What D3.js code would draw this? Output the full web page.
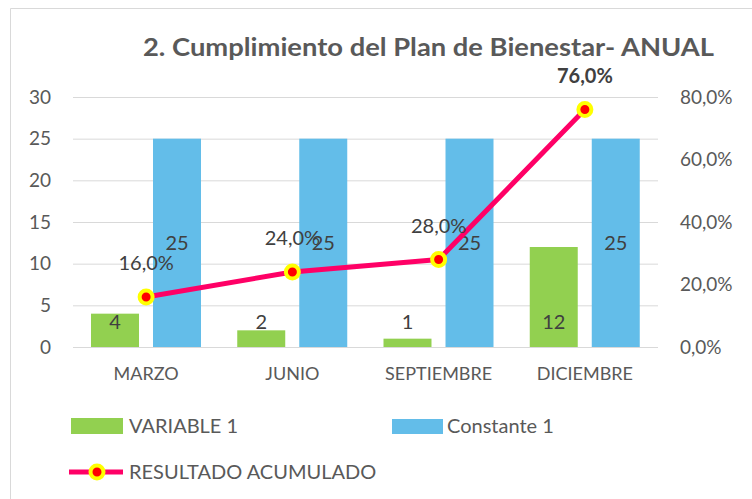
<!DOCTYPE html>
<html>
<head>
<meta charset="utf-8">
<script src="https://cdn.jsdelivr.net/npm/d3@7"></script>
<style>
  body { margin: 0; background: #fff; }
  text { font-family: Lato, "Open Sans", sans-serif; fill: #595959; }
  .tick line { stroke: #d9d9d9; }
  .tick text { font-size: 19px; fill: #595959; }
</style>
</head>
<body>
<svg width="752" height="499"></svg>
<script>
  var categories = ["MARZO", "JUNIO", "SEPTIEMBRE", "DICIEMBRE"];
  var variable1 = [4, 2, 1, 12];
  var constante1 = [25, 25, 25, 25];
  var resultado = [0.16, 0.24, 0.28, 0.76];
  var leftTicks = [0, 5, 10, 15, 20, 25, 30];
  var rightTicks = [0, 0.2, 0.4, 0.6, 0.8];

  var svg = d3.select("svg");
  var width = +svg.attr("width");
  var height = +svg.attr("height");
  var margin = { top: 97, right: 94, left: 73, bottom: 152 };
  var innerWidth = width - margin.left - margin.right;
  var innerHeight = height - margin.top - margin.bottom;

  var green = "#92d050", blue = "#63bde9", pink = "#ff0066";
  var pct = function (v) { return d3.format(".1f")(v * 100).replace(".", ",") + "%"; };

  // frame (only left and top edges show)
  svg.append("path").attr("d", "M10.5,499V8.5H752").attr("fill", "none").attr("stroke", "#d9d9d9");

  svg.append("text")
    .text("2. Cumplimiento del Plan de Bienestar- ANUAL")
    .attr("x", 143).attr("y", 56)
    .attr("font-size", "24px").attr("font-weight", "bold")
    .attr("textLength", 571).attr("lengthAdjust", "spacingAndGlyphs");

  var g = svg.append("g").attr("transform", "translate(" + margin.left + "," + margin.top + ")");

  var x = d3.scaleBand().domain(categories).range([0, innerWidth]);
  var xIn = d3.scaleBand().domain(["v", "c"]).range([18, 128]).paddingInner(0.226);
  var yL = d3.scaleLinear().domain([0, 30]).range([innerHeight, 0]);
  var yR = d3.scaleLinear().domain([0, 0.8]).range([innerHeight, 0]);

  // grid + left axis
  var yAxis = g.append("g")
    .call(d3.axisLeft(yL).tickValues(leftTicks).tickSize(-innerWidth).tickPadding(22));
  yAxis.select(".domain").remove();

  var yAxisR = g.append("g").attr("transform", "translate(" + innerWidth + ",0)")
    .call(d3.axisRight(yR).tickValues(rightTicks).tickFormat(pct).tickSize(0).tickPadding(22));
  yAxisR.select(".domain").remove();

  var xAxis = g.append("g").attr("transform", "translate(0," + innerHeight + ")")
    .call(d3.axisBottom(x).tickSize(0).tickPadding(20));
  xAxis.select(".domain").remove();
  xAxis.selectAll("text").attr("y", 27).attr("dy", "0.35em").style("font-size", "18px");

  var groups = g.selectAll(".cat").data(categories).enter().append("g")
    .attr("transform", function (d) { return "translate(" + x(d) + ",0)"; });

  groups.append("rect")
    .attr("x", xIn("v")).attr("width", xIn.bandwidth())
    .attr("y", function (d, i) { return yL(variable1[i]); })
    .attr("height", function (d, i) { return innerHeight - yL(variable1[i]); })
    .attr("fill", green);

  groups.append("rect")
    .attr("x", xIn("c")).attr("width", xIn.bandwidth())
    .attr("y", function (d, i) { return yL(constante1[i]); })
    .attr("height", function (d, i) { return innerHeight - yL(constante1[i]); })
    .attr("fill", blue);

  groups.append("text")
    .text(function (d, i) { return variable1[i]; })
    .attr("x", xIn("v") + xIn.bandwidth() / 2).attr("y", innerHeight - 25)
    .attr("dy", "0.35em").attr("text-anchor", "middle").attr("font-size", "20px").style("fill", "#404040");

  groups.append("text")
    .text(function (d, i) { return constante1[i]; })
    .attr("x", xIn("c") + xIn.bandwidth() / 2)
    .attr("y", function (d, i) { return (yL(constante1[i]) + innerHeight) / 2; })
    .attr("dy", "0.35em").attr("text-anchor", "middle").attr("font-size", "20px").style("fill", "#404040");

  var cx = function (d, i) { return x(categories[i]) + x.bandwidth() / 2; };
  var line = d3.line().x(cx).y(function (d) { return yR(d); });

  g.append("path").datum(resultado).attr("d", line)
    .attr("fill", "none").attr("stroke", pink).attr("stroke-width", 5).attr("stroke-linejoin", "round");

  g.selectAll(".pt").data(resultado).enter().append("circle")
    .attr("cx", cx).attr("cy", function (d) { return yR(d); }).attr("r", 6.5)
    .attr("fill", "#ff0000").attr("stroke", "#ffff00").attr("stroke-width", 4);

  g.selectAll(".pl").data(resultado).enter().append("text")
    .text(pct)
    .attr("x", cx).attr("y", function (d) { return yR(d) - 34; })
    .attr("dy", "0.35em").attr("text-anchor", "middle")
    .attr("font-size", "20px")
    .attr("font-weight", function (d, i) { return i === resultado.length - 1 ? "bold" : "normal"; })
    .style("fill", "#404040");

  // legend
  var leg = svg.append("g").attr("font-size", "20px");
  leg.append("rect").attr("x", 71).attr("y", 418).attr("width", 52).attr("height", 16).attr("fill", green);
  leg.append("text").text("VARIABLE 1").attr("x", 129).attr("y", 426).attr("dy", "0.35em");
  leg.append("rect").attr("x", 392).attr("y", 419).attr("width", 51).attr("height", 15).attr("fill", blue);
  leg.append("text").text("Constante 1").attr("x", 447).attr("y", 426).attr("dy", "0.35em");
  leg.append("line").attr("x1", 69).attr("x2", 123).attr("y1", 472).attr("y2", 472)
    .attr("stroke", pink).attr("stroke-width", 5);
  leg.append("circle").attr("cx", 97).attr("cy", 472).attr("r", 6.5)
    .attr("fill", "#ff0000").attr("stroke", "#ffff00").attr("stroke-width", 4);
  leg.append("text").text("RESULTADO ACUMULADO").attr("x", 129).attr("y", 472).attr("dy", "0.35em");
</script>
</body>
</html>
